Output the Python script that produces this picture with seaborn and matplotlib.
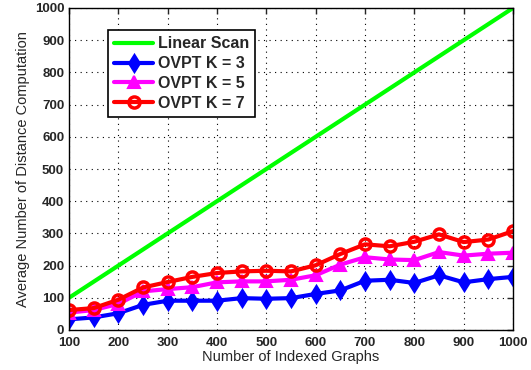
import matplotlib
matplotlib.use("Agg")
import matplotlib.pyplot as plt
import seaborn as sns
import pandas as pd

x_vals = [100, 150, 200, 250, 300, 350, 400, 450, 500, 550, 600, 650, 700, 750, 800, 850, 900, 950, 1000]
linear_scan = [100, 150, 200, 250, 300, 350, 400, 450, 500, 550, 600, 650, 700, 750, 800, 850, 900, 950, 1000]
ovpt_k3 = [33, 39, 52, 78, 91, 91, 91, 99, 97, 99, 112, 123, 153, 156, 146, 170, 148, 158, 165]
ovpt_k5 = [54, 62, 81, 120, 127, 133, 148, 151, 151, 156, 170, 203, 226, 219, 217, 242, 231, 237, 240]
ovpt_k7 = [62, 68, 94, 132, 149, 165, 177, 182, 184, 182, 201, 236, 266, 260, 274, 297, 273, 281, 307]
series_names = ["Linear Scan", "OVPT K = 3", "OVPT K = 5", "OVPT K = 7"]

sns.set_style("white")
plt.rcParams['font.family'] = ['Liberation Sans', 'DejaVu Sans']

rows = []
for name, vals in zip(series_names, [linear_scan, ovpt_k3, ovpt_k5, ovpt_k7]):
    for xv, yv in zip(x_vals, vals):
        rows.append({"x": xv, "y": yv, "series": name})
df = pd.DataFrame(rows)

fig = plt.figure(figsize=(5.31, 3.70), dpi=100)
ax = fig.add_axes([69/531, 1-330/370, (513-69)/531, (330-8)/370])

palette = {"Linear Scan": "#00ff00", "OVPT K = 3": "#0000ff", "OVPT K = 5": "#ff00ff", "OVPT K = 7": "#ff0000"}
marker_kw = {
    "Linear Scan": dict(marker=None),
    "OVPT K = 3": dict(marker="d", markersize=8.5, markeredgewidth=2, markerfacecolor="#0000ff", markeredgecolor="#0000ff"),
    "OVPT K = 5": dict(marker="^", markersize=8, markeredgewidth=1.5, markerfacecolor="#ff00ff", markeredgecolor="#ff00ff"),
    "OVPT K = 7": dict(marker="o", markersize=8, markeredgewidth=2.5, markerfacecolor="none", markeredgecolor="#ff0000"),
}
for name in series_names:
    sub = df[df.series == name]
    sns.lineplot(data=sub, x="x", y="y", ax=ax, color=palette[name], linewidth=3,
                 linestyle="-", label=name, **marker_kw[name])

ax.set_xlim(100, 1000)
ax.set_ylim(0, 1000)
ax.set_xticks(range(100, 1001, 100))
ax.set_yticks(range(0, 1001, 100))
ax.tick_params(direction="in", length=4, width=1, labelsize=9.5, top=True, right=True)
ax.tick_params(axis="x", pad=5)
for lab in ax.get_xticklabels() + ax.get_yticklabels():
    lab.set_fontweight("bold")
ax.grid(True, linestyle=(0, (1, 4)), color="black", linewidth=0.8)
for s in ax.spines.values():
    s.set_color("black")
    s.set_linewidth(1)
ax.set_xlabel("Number of Indexed Graphs", fontsize=10.5, labelpad=1)
ax.set_ylabel("Average Number of Distance Computation", fontsize=10.5, labelpad=3)

leg = ax.legend(loc="upper left", bbox_to_anchor=(31/444, 1-14/322), frameon=True, fancybox=False,
                edgecolor="black", framealpha=1, prop={"weight": "bold", "size": 11.5},
                handlelength=2.4, borderpad=0.4, labelspacing=0.3, handletextpad=0.3)
leg.get_frame().set_linewidth(1.2)
for line in leg.get_lines():
    line.set_linestyle("-")

fig.savefig("out.png", dpi=100)
